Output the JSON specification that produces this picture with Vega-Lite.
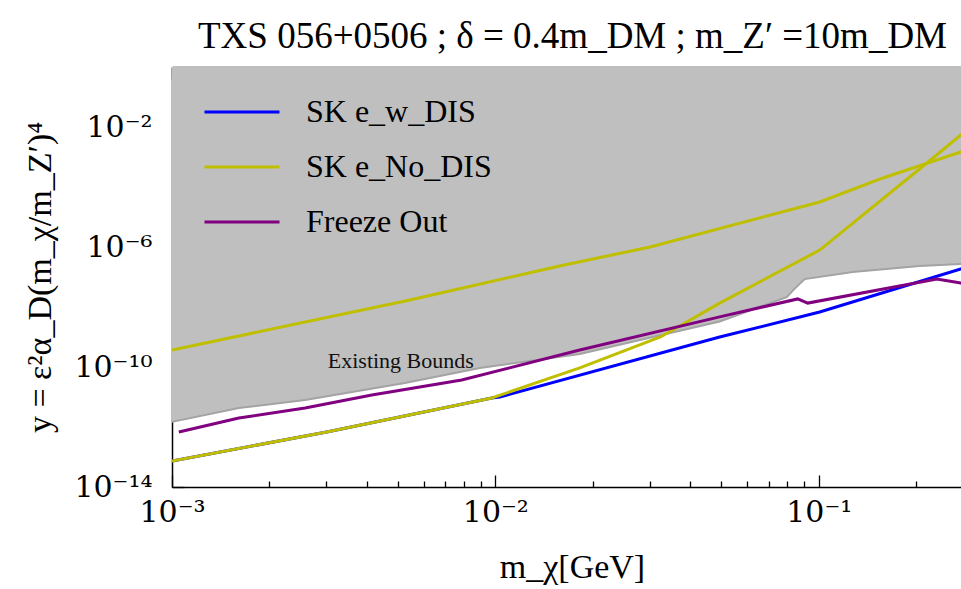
{
  "$schema": "https://vega.github.io/schema/vega-lite/v6.json",
  "autosize": {"type": "none"},
  "padding": {"left": 172, "top": 67, "right": -12, "bottom": 102},
  "width": 801,
  "height": 420,
  "background": "white",
  "title": {"text": "TXS 056+0506 ; δ = 0.4m_DM ; m_Z′ =10m_DM", "fontSize": 37, "font": "Liberation Serif", "fontWeight": "normal", "color": "black", "anchor": "middle", "offset": 10},
  "config": {
    "view": {"stroke": null},
    "font": "Liberation Serif",
    "axis": {"domainColor": "black", "domainWidth": 1.5, "tickColor": "black", "tickWidth": 1.3, "labelFont": "DejaVu Serif", "labelFontSize": 30, "labelColor": "black", "titleFont": "Liberation Serif", "titleFontSize": 34, "titleFontWeight": "normal", "titleColor": "black", "grid": false},
    "legend": {"orient": "none", "legendX": 31, "legendY": 6, "labelFont": "Liberation Serif", "labelFontSize": 32, "labelColor": "black", "symbolType": "stroke", "symbolSize": 5625, "symbolStrokeWidth": 3, "labelOffset": 25, "rowPadding": -7, "padding": 0, "labelLimit": 0}
  },
  "datasets": {
    "bounds": [
      {"m": 0.001, "y": 1.48e-12}, {"m": 0.00161, "y": 4.27e-12}, {"m": 0.00258, "y": 7.9e-12},
      {"m": 0.00525, "y": 2.95e-11}, {"m": 0.00895, "y": 9.3e-11}, {"m": 0.01824, "y": 2.7e-10},
      {"m": 0.0494, "y": 3.3e-9}, {"m": 0.0796, "y": 2.14e-8}, {"m": 0.0846, "y": 4.27e-8},
      {"m": 0.0905, "y": 8.5e-8}, {"m": 0.1274, "y": 1.48e-7}, {"m": 0.205, "y": 2.34e-7},
      {"m": 0.275, "y": 2.69e-7}, {"m": 0.3, "y": 2.8e-7}
    ],
    "lines": [
      {"series": "SK e_w_DIS", "seg": "low", "m": 0.001, "y": 7.4e-14},
      {"series": "SK e_w_DIS", "seg": "low", "m": 0.00301, "y": 6.8e-13},
      {"series": "SK e_w_DIS", "seg": "low", "m": 0.00975, "y": 9.3e-12},
      {"series": "SK e_w_DIS", "seg": "low", "m": 0.01033, "y": 1.0e-11},
      {"series": "SK e_w_DIS", "seg": "low", "m": 0.0494, "y": 1.0e-9},
      {"series": "SK e_w_DIS", "seg": "low", "m": 0.1007, "y": 6.8e-9},
      {"series": "SK e_w_DIS", "seg": "low", "m": 0.275, "y": 1.86e-7},
      {"series": "SK e_w_DIS", "seg": "low", "m": 0.3, "y": 2.5e-7},
      {"series": "SK e_No_DIS", "seg": "low", "m": 0.001, "y": 7.4e-14},
      {"series": "SK e_No_DIS", "seg": "low", "m": 0.00301, "y": 6.8e-13},
      {"series": "SK e_No_DIS", "seg": "low", "m": 0.00975, "y": 9.3e-12},
      {"series": "SK e_No_DIS", "seg": "low", "m": 0.01824, "y": 9.3e-11},
      {"series": "SK e_No_DIS", "seg": "low", "m": 0.0324, "y": 1.0e-9},
      {"series": "SK e_No_DIS", "seg": "low", "m": 0.0494, "y": 1.35e-8},
      {"series": "SK e_No_DIS", "seg": "low", "m": 0.1007, "y": 7.9e-7},
      {"series": "SK e_No_DIS", "seg": "low", "m": 0.216, "y": 6.3e-4},
      {"series": "SK e_No_DIS", "seg": "low", "m": 0.275, "y": 5.4e-3},
      {"series": "SK e_No_DIS", "seg": "low", "m": 0.3, "y": 1.17e-2},
      {"series": "SK e_No_DIS", "seg": "high", "m": 0.001, "y": 3.7e-10},
      {"series": "SK e_No_DIS", "seg": "high", "m": 0.00544, "y": 1.7e-8},
      {"series": "SK e_No_DIS", "seg": "high", "m": 0.0158, "y": 2.34e-7},
      {"series": "SK e_No_DIS", "seg": "high", "m": 0.0301, "y": 1.0e-6},
      {"series": "SK e_No_DIS", "seg": "high", "m": 0.1007, "y": 3.16e-5},
      {"series": "SK e_No_DIS", "seg": "high", "m": 0.158, "y": 2.0e-4},
      {"series": "SK e_No_DIS", "seg": "high", "m": 0.275, "y": 1.48e-3},
      {"series": "SK e_No_DIS", "seg": "high", "m": 0.3, "y": 2.14e-3},
      {"series": "Freeze Out", "seg": "one", "m": 0.00105, "y": 6.8e-13},
      {"series": "Freeze Out", "seg": "one", "m": 0.00161, "y": 2.0e-12},
      {"series": "Freeze Out", "seg": "one", "m": 0.00258, "y": 4.27e-12},
      {"series": "Freeze Out", "seg": "one", "m": 0.00415, "y": 1.17e-11},
      {"series": "Freeze Out", "seg": "one", "m": 0.00787, "y": 3.7e-11},
      {"series": "Freeze Out", "seg": "one", "m": 0.01824, "y": 3.7e-10},
      {"series": "Freeze Out", "seg": "one", "m": 0.0494, "y": 4.7e-9},
      {"series": "Freeze Out", "seg": "one", "m": 0.0861, "y": 1.86e-8},
      {"series": "Freeze Out", "seg": "one", "m": 0.0925, "y": 1.35e-8},
      {"series": "Freeze Out", "seg": "one", "m": 0.232, "y": 8.5e-8},
      {"series": "Freeze Out", "seg": "one", "m": 0.275, "y": 6.3e-8},
      {"series": "Freeze Out", "seg": "one", "m": 0.3, "y": 4.7e-8}
    ],
    "note": [{"m": 0.0051, "y": 1.58e-10, "label": "Existing Bounds"}]
  },
  "layer": [
    {
      "data": {"name": "bounds"},
      "mark": {"type": "area", "color": "#bfbfbf", "opacity": 1},
      "encoding": {
        "x": {"field": "m", "type": "quantitative", "scale": {"type": "log", "domain": [0.001, 0.3], "nice": false},
          "axis": {"orient": "bottom", "values": [0.001, 0.01, 0.1], "ticks": false, "labelExpr": "datum.value < 0.005 ? '10⁻³' : datum.value < 0.05 ? '10⁻²' : '10⁻¹'", "labelPadding": 10, "labelFlush": false, "labelOverlap": false, "labelBaseline": "top", "title": "m_χ[GeV]", "titleX": 400, "titleY": 90, "titleBaseline": "alphabetic", "domain": true}},
        "y": {"field": "y", "type": "quantitative", "scale": {"type": "log", "domain": [1e-14, 1], "nice": false},
          "axis": {"orient": "left", "values": [1e-14, 1e-10, 1e-6, 1e-2], "ticks": false, "labelExpr": "datum.value < 1e-13 ? '10⁻¹⁴' : datum.value < 1e-9 ? '10⁻¹⁰' : datum.value < 1e-5 ? '10⁻⁶' : '10⁻²'", "labelPadding": 20, "labelFlush": false, "labelOverlap": false, "title": "y = ε²α_D(m_χ/m_Z′)⁴", "titleX": -132, "titleY": 210, "titleAngle": -90, "titleBaseline": "middle", "titleAlign": "center", "domain": true}},
        "y2": {"datum": 1}
      }
    },
    {
      "data": {"name": "bounds"},
      "mark": {"type": "line", "color": "#a3a3a3", "strokeWidth": 2},
      "encoding": {
        "x": {"field": "m", "type": "quantitative", "scale": {"type": "log", "domain": [0.001, 0.3], "nice": false},
          "axis": {"orient": "bottom", "values": [0.001, 0.01, 0.1], "tickSize": -12, "labels": false, "domain": false, "title": null}},
        "y": {"field": "y", "type": "quantitative", "scale": {"type": "log", "domain": [1e-14, 1], "nice": false},
          "axis": {"orient": "left", "values": [1e-14, 1e-10, 1e-6, 1e-2], "tickSize": -12, "labels": false, "domain": false, "title": null}}
      }
    },
    {
      "data": {"name": "lines"},
      "transform": [{"filter": "datum.series === 'SK e_w_DIS'"}],
      "mark": {"type": "line", "strokeWidth": 3, "clip": true},
      "encoding": {
        "x": {"field": "m", "type": "quantitative", "scale": {"type": "log", "domain": [0.001, 0.3], "nice": false},
          "axis": {"orient": "bottom", "values": [0.002, 0.003, 0.004, 0.005, 0.006, 0.007, 0.008, 0.009, 0.02, 0.03, 0.04, 0.05, 0.06, 0.07, 0.08, 0.09, 0.2, 0.3], "tickSize": -6, "labels": false, "domain": false, "title": null}},
        "y": {"field": "y", "type": "quantitative", "scale": {"type": "log", "domain": [1e-14, 1], "nice": false},
          "axis": {"orient": "right", "values": [1e-14, 1e-10, 1e-6, 1e-2], "tickSize": -12, "labels": false, "domain": true, "title": null}},
        "color": {"field": "series", "type": "nominal", "scale": {"domain": ["SK e_w_DIS", "SK e_No_DIS", "Freeze Out"], "range": ["#0000ff", "#bfbf00", "#800080"]}, "legend": {"title": null}},
        "detail": {"field": "seg"}
      }
    },
    {
      "data": {"name": "lines"},
      "transform": [{"filter": "datum.series === 'SK e_No_DIS'"}],
      "mark": {"type": "line", "strokeWidth": 3, "clip": true},
      "encoding": {
        "x": {"field": "m", "type": "quantitative", "scale": {"type": "log", "domain": [0.001, 0.3], "nice": false},
          "axis": {"orient": "top", "values": [0.001, 0.01, 0.1], "tickSize": -12, "labels": false, "domain": true, "title": null}},
        "y": {"field": "y", "type": "quantitative", "scale": {"type": "log", "domain": [1e-14, 1], "nice": false}, "axis": null},
        "color": {"field": "series", "type": "nominal", "scale": {"domain": ["SK e_w_DIS", "SK e_No_DIS", "Freeze Out"], "range": ["#0000ff", "#bfbf00", "#800080"]}, "legend": {"title": null}},
        "detail": {"field": "seg"}
      }
    },
    {
      "data": {"name": "lines"},
      "transform": [{"filter": "datum.series === 'Freeze Out'"}],
      "mark": {"type": "line", "strokeWidth": 3, "clip": true},
      "encoding": {
        "x": {"field": "m", "type": "quantitative", "scale": {"type": "log", "domain": [0.001, 0.3], "nice": false},
          "axis": {"orient": "top", "values": [0.002, 0.003, 0.004, 0.005, 0.006, 0.007, 0.008, 0.009, 0.02, 0.03, 0.04, 0.05, 0.06, 0.07, 0.08, 0.09, 0.2, 0.3], "tickSize": -6, "labels": false, "domain": false, "title": null}},
        "y": {"field": "y", "type": "quantitative", "scale": {"type": "log", "domain": [1e-14, 1], "nice": false}, "axis": null},
        "color": {"field": "series", "type": "nominal", "scale": {"domain": ["SK e_w_DIS", "SK e_No_DIS", "Freeze Out"], "range": ["#0000ff", "#bfbf00", "#800080"]}, "legend": {"title": null}},
        "detail": {"field": "seg"}
      }
    },
    {
      "data": {"name": "note"},
      "mark": {"type": "text", "font": "Liberation Serif", "fontSize": 22, "color": "#111111", "align": "center", "baseline": "middle"},
      "encoding": {
        "x": {"field": "m", "type": "quantitative", "scale": {"type": "log", "domain": [0.001, 0.3], "nice": false}, "axis": null},
        "y": {"field": "y", "type": "quantitative", "scale": {"type": "log", "domain": [1e-14, 1], "nice": false}, "axis": null},
        "text": {"field": "label"}
      }
    }
  ],
  "resolve": {"axis": {"x": "independent", "y": "independent"}}
}
